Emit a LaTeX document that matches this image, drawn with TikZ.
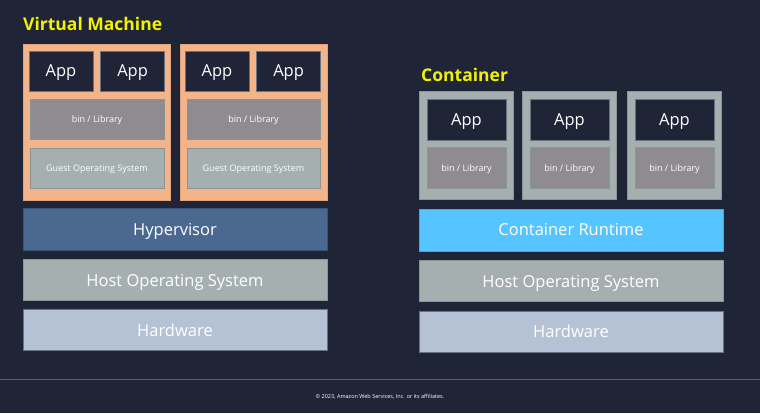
\documentclass[tikz,border=0pt]{standalone}
\usepackage{fontspec}
\setmainfont{Open Sans}
\usepackage{xcolor}
\usetikzlibrary{positioning}

\definecolor{bgnavy}{HTML}{1F2537}
\definecolor{peach}{HTML}{F4B48A}
\definecolor{peachline}{HTML}{E3A47C}
\definecolor{appline}{HTML}{6A7282}
\definecolor{libgrey}{HTML}{8F8C90}
\definecolor{osgrey}{HTML}{A6AFAF}
\definecolor{osline}{HTML}{8C9596}
\definecolor{hypblue}{HTML}{4B6891}
\definecolor{hwblue}{HTML}{B5C2D6}
\definecolor{rtblue}{HTML}{56C4FE}
\definecolor{titleyellow}{HTML}{F2F200}
\definecolor{rulegrey}{HTML}{5C616B}

\tikzset{
  title/.style={text=titleyellow, font=\bfseries\fontsize{17.5}{20}\selectfont, inner sep=0pt},
  vmbox/.style={draw=peachline, fill=peach, line width=0.8pt, minimum width=147pt, minimum height=156pt, inner sep=0pt},
  ctbox/.style={draw=osline, fill=osgrey, line width=0.8pt, minimum width=94pt, minimum height=108pt, inner sep=0pt},
  app/.style={draw=appline, fill=bgnavy, line width=0.6pt, text=white, font=\fontsize{16.5}{20}\selectfont, text height=11.8pt, text depth=0pt, minimum width=64pt, minimum height=40pt, inner sep=0pt},
  small/.style={text=white, font=\fontsize{9}{11}\selectfont, text height=6.4pt, text depth=0pt, minimum width=134pt, minimum height=40pt, inner sep=0pt, line width=0.6pt},
  lib/.style={small, draw=osline, fill=libgrey},
  guest/.style={small, draw=osline, fill=osgrey},
  layer/.style={text=white, font=\fontsize{16.5}{20}\selectfont, text height=11.8pt, text depth=0pt, minimum width=304pt, minimum height=41pt, inner sep=0pt, line width=0.6pt},
}

\begin{document}
\begin{tikzpicture}[x=1pt,y=-1pt]
  \fill[bgnavy] (0,0) rectangle (760,413);
  \useasboundingbox (0,0) rectangle (760,413);

  % virtual machine side
  \node[title, anchor=base west] (vmtitle) at (23,30) {Virtual Machine};
  \node[vmbox] (vmA) at (97,122) {};
  \node[vmbox] (vmB) at (253.5,122) {};
  \node[app] (vmAapp1) at (61,71) {App};
  \node[app, right=7pt of vmAapp1] (vmAapp2) {App};
  \node[app] (vmBapp1) at (217,71) {App};
  \node[app, right=7pt of vmBapp1] (vmBapp2) {App};
  \node[lib] (vmAlib) at (97,119.5) {bin / Library};
  \node[lib, minimum width=133pt] (vmBlib) at (253.5,119.5) {bin / Library};
  \node[guest, below=8pt of vmAlib] (vmAguest) {Guest Operating System};
  \node[guest, minimum width=133pt, below=8pt of vmBlib] (vmBguest) {Guest Operating System};

  \node[layer, draw=hypblue!80!black, fill=hypblue, minimum height=42pt] (hyper) at (175,229.5) {Hypervisor};
  \node[layer, draw=osline, fill=osgrey, below=8.5pt of hyper] (hostL) {Host Operating System};
  \node[layer, draw=appline, fill=hwblue, below=8.5pt of hostL] (hwL) {Hardware};

  % container side
  \node[title, anchor=base west] (cttitle) at (421,81) {Container};
  \foreach \i/\cx in {1/466,2/569,3/674}{
    \node[ctbox] (ct\i) at (\cx,145) {};
    \node[app, minimum width=79pt, minimum height=41pt] (ctapp\i) at (\cx+0.5,119.5) {App};
    \node[lib, minimum width=79pt, minimum height=41pt, below=7pt of ctapp\i] (ctlib\i) {bin / Library};
  }

  \node[layer, draw=rtblue!85!black, fill=rtblue, minimum height=42pt] (runtime) at (571,230) {Container Runtime};
  \node[layer, draw=osline, fill=osgrey, below=9pt of runtime] (hostR) {Host Operating System};
  \node[layer, draw=appline, fill=hwblue, below=9pt of hostR] (hwR) {Hardware};

  % footer
  \coordinate (ruleL) at (0,379);
  \coordinate (ruleR) at (760,379);
  \draw[rulegrey, line width=1pt] (ruleL) -- (ruleR);
  \node[text=white, font=\fontsize{5.5}{6}\selectfont] (footer) at (380,397) {© 2023, Amazon Web Services, Inc. or its affiliates.};
\end{tikzpicture}
\end{document}
